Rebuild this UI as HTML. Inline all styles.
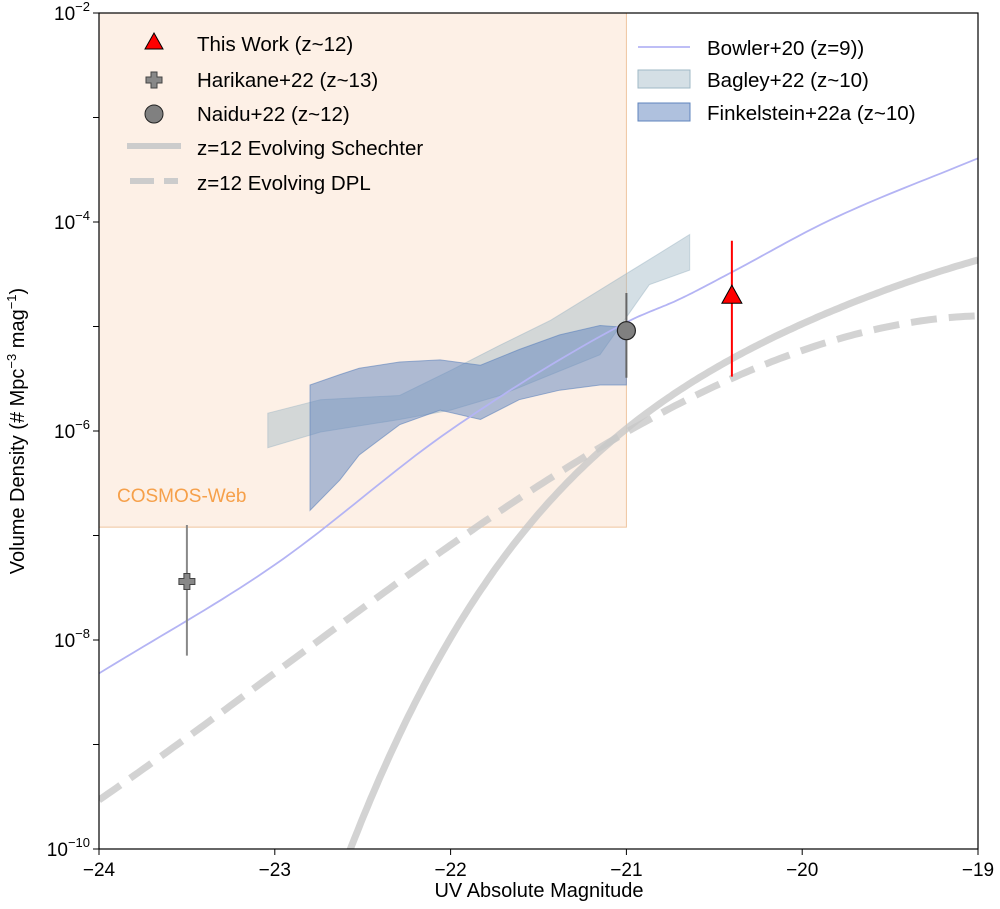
<!DOCTYPE html>
<html><head><meta charset="utf-8"><style>
body{margin:0;background:#fff;}
svg{display:block;font-family:"Liberation Sans",Arial,sans-serif;}
</style></head><body>
<svg id="chart" width="1000" height="909" viewBox="0 0 1000 909"></svg>
<script>
const bowlerX=[-24,-23,-22,-21,-20.7,-20.4,-19.84,-19];
const bowlerY=[-8.32,-7.28,-5.99,-4.96,-4.74,-4.48,-3.98,-3.39];
const schX=[-22.6,-22.563,-22.402,-22.25,-22.098,-21.928,-21.719,-21.55,-21.17,-20.98,-20.7,-20.41,-20,-19.5,-19];
const schY=[-10.13,-9.978,-9.308,-8.766,-8.255,-7.81,-7.234,-6.90,-6.21,-5.96,-5.64,-5.30,-4.96,-4.65,-4.36];
const dplX=[-24,-23.5,-23,-22.5,-22,-21.5,-21,-20.5,-20,-19.5,-19];
const dplY=[-9.48,-8.98,-8.40,-7.68,-7.0,-6.50,-6.03,-5.59,-5.25,-5.02,-4.87];
const bagX=[-23.04,-22.74,-22.29,-22.0,-21.72,-21.43,-21.15,-20.87,-20.64];
const bagHi=[-5.83,-5.70,-5.66,-5.42,-5.18,-4.94,-4.65,-4.36,-4.12];
const bagLo=[-6.16,-6.01,-5.89,-5.80,-5.66,-5.46,-5.27,-4.60,-4.46];
const finX=[-22.80,-22.63,-22.52,-22.29,-22.06,-21.83,-21.61,-21.38,-21.15,-21.0];
const finHi=[-5.56,-5.46,-5.40,-5.34,-5.32,-5.37,-5.22,-5.08,-4.99,-5.01];
const finLo=[-6.76,-6.47,-6.23,-5.94,-5.80,-5.89,-5.70,-5.61,-5.56,-5.56];
const thisWork=[-20.4,-4.71,-4.18,-5.48];
const harikane=[-23.5,-7.44,-6.9,-8.15];
const naidu=[-21,-5.04,-4.68,-5.49];
const xTicks=[-24,-23,-22,-21,-20,-19];
const yTicks=[-10,-8,-6,-4,-2];

const L=99,R=978,T=13,B=849;
const sx=v=>L+(v+24)/5*(R-L);
const sy=v=>T+(-2-v)/8*(B-T);
const NS="http://www.w3.org/2000/svg";
const svg=document.getElementById('chart');
function mk(tag,attrs,parent){const e=document.createElementNS(NS,tag);for(const k in attrs)e.setAttribute(k,attrs[k]);(parent||svg).appendChild(e);return e;}
const clip=mk('clipPath',{id:'pc'});mk('rect',{x:L,y:T,width:R-L,height:B-T},clip);
const g=mk('g',{'clip-path':'url(#pc)'});
function line(xs,ys){return xs.map((x,i)=>(i?'L':'M')+sx(x).toFixed(1)+','+sy(ys[i]).toFixed(1)).join(' ');}
function smooth(xs,ys){
 const n=xs.length,d=[],m=[];
 for(let i=0;i<n-1;i++)d.push((ys[i+1]-ys[i])/(xs[i+1]-xs[i]));
 m[0]=d[0];m[n-1]=d[n-2];
 for(let i=1;i<n-1;i++)m[i]=d[i-1]*d[i]<=0?0:(d[i-1]+d[i])/2;
 const px=[],py=[];
 for(let i=0;i<n-1;i++){const h=xs[i+1]-xs[i];for(let k=0;k<20;k++){const t=k/20,t2=t*t,t3=t2*t;
  px.push(xs[i]+t*h);py.push((2*t3-3*t2+1)*ys[i]+(t3-2*t2+t)*h*m[i]+(-2*t3+3*t2)*ys[i+1]+(t3-t2)*h*m[i+1]);}}
 px.push(xs[n-1]);py.push(ys[n-1]);
 return line(px,py);}
// least-squares polynomial through the read points (smooths reading noise)
function polyCurve(xs,ys,deg,x0,x1){
 const c=(xs[0]+xs[xs.length-1])/2,s=(xs[xs.length-1]-xs[0])/2||1;
 const N=deg+1,A=[...Array(N)].map(()=>Array(N+1).fill(0));
 xs.forEach((x,i)=>{const u=(x-c)/s,p=[];for(let k=0;k<N;k++)p.push(Math.pow(u,k));
  for(let r=0;r<N;r++){for(let q=0;q<N;q++)A[r][q]+=p[r]*p[q];A[r][N]+=p[r]*ys[i];}});
 for(let r=0;r<N;r++){let mx=r;for(let q=r+1;q<N;q++)if(Math.abs(A[q][r])>Math.abs(A[mx][r]))mx=q;[A[r],A[mx]]=[A[mx],A[r]];
  for(let q=0;q<N;q++)if(q!==r){const f=A[q][r]/A[r][r];for(let k=r;k<=N;k++)A[q][k]-=f*A[r][k];}}
 const co=A.map((row,r)=>row[N]/row[r]);
 const px=[],py=[];for(let k=0;k<=200;k++){const x=x0+(x1-x0)*k/200,u=(x-c)/s;let v=0;for(let j=N-1;j>=0;j--)v=v*u+co[j];px.push(x);py.push(v);}
 return line(px,py);}
function band(xs,hi,lo){let d=line(xs,hi);for(let i=xs.length-1;i>=0;i--)d+='L'+sx(xs[i]).toFixed(1)+','+sy(lo[i]).toFixed(1);return d+'Z';}

let e;
e=mk('rect',{x:L,y:T,width:sx(-21)-L,height:sy(-6.92)-T,fill:'#fdf0e6',stroke:'#efc59e','stroke-width':1},g);


e=mk('text',{x:117,y:502,fill:'#f6a04a','font-size':19},g);e.textContent='COSMOS-Web';


e=mk('path',{d:band(bagX,bagHi,bagLo),fill:'#9fb8c6','fill-opacity':0.45,stroke:'#9fb8c6','stroke-opacity':0.5},g);


e=mk('path',{d:band(finX,finHi,finLo),fill:'#5f84bd','fill-opacity':0.5,stroke:'#5f84bd','stroke-opacity':0.6},g);


e=mk('path',{d:smooth(bowlerX,bowlerY),fill:'none',stroke:'#b4b4f4','stroke-width':1.8},g);


e=mk('path',{d:polyCurve(schX,schY,4,schX[0],schX[schX.length-1]),fill:'none',stroke:'#c8c8c8','stroke-opacity':0.8,'stroke-width':7},g);


e=mk('path',{d:polyCurve(dplX,dplY,3,dplX[0],dplX[dplX.length-1]),fill:'none',stroke:'#c8c8c8','stroke-opacity':0.8,'stroke-width':7,'stroke-dasharray':'26,12'},g);



function err(p,col){mk('line',{x1:sx(p[0]),x2:sx(p[0]),y1:sy(p[2]),y2:sy(p[3]),stroke:col,'stroke-width':2},g);}
err(harikane,'#888');err(naidu,'#666');err(thisWork,'#f00');
let hx=sx(harikane[0]),hy=sy(harikane[1]);
e=mk('path',{d:`M${hx-3},${hy-8}h6v5h5v6h-5v5h-6v-5h-5v-6h5z`,fill:'#888',stroke:'#444','stroke-width':1},g);


e=mk('circle',{cx:sx(naidu[0]),cy:sy(naidu[1]),r:9,fill:'#808080',stroke:'#222','stroke-width':1.2},g);


let tx=sx(thisWork[0]),ty=sy(thisWork[1]);
e=mk('path',{d:`M${tx},${ty-11}L${tx+10},${ty+7}L${tx-10},${ty+7}Z`,fill:'#f00',stroke:'#000','stroke-width':1},g);



mk('rect',{x:L,y:T,width:R-L,height:B-T,fill:'none',stroke:'#000','stroke-width':1.2});
xTicks.forEach(v=>{const x=sx(v);mk('line',{x1:x,x2:x,y1:B,y2:B+6,stroke:'#000'});
 e=mk('text',{x:x,y:B+27,'text-anchor':'middle','font-size':19});e.textContent=(v<0?'\u2212':'')+Math.abs(v);
 
 });
for(let v=-10;v<=-2;v++){const y=sy(v);mk('line',{x1:L-6,x2:L,y1:y,y2:y,stroke:'#000'});}
yTicks.forEach(v=>{const y=sy(v);
 e=mk('text',{x:L-9,y:y+7,'text-anchor':'end','font-size':19});
 e.innerHTML='10<tspan dy="-9" font-size="13">\u2212'+Math.abs(v)+'</tspan>';
 
 });
e=mk('text',{x:539,y:897,'text-anchor':'middle','font-size':20});e.textContent='UV Absolute Magnitude';


e=mk('text',{x:0,y:0,'text-anchor':'middle','font-size':20,transform:'translate(24,431) rotate(-90)'});
e.innerHTML='Volume Density (# Mpc<tspan dy="-8" font-size="13">\u22123</tspan><tspan dy="8"> mag</tspan><tspan dy="-8" font-size="13">\u22121</tspan><tspan dy="8">)</tspan>';



const lg=[[43,'This Work (z~12)'],[79,'Harikane+22 (z~13)'],[113,'Naidu+22 (z~12)'],[147,'z=12 Evolving Schechter'],[182,'z=12 Evolving DPL']];
lg.forEach(([y,t])=>{e=mk('text',{x:197,y:y+8,'font-size':20.5});e.textContent=t;
 
 });
mk('path',{d:'M154,33L163,49L145,49Z',fill:'#f00',stroke:'#000'});
mk('path',{d:'M151,72h6v5h5v6h-5v5h-6v-5h-5v-6h5z',fill:'#888',stroke:'#444'});
mk('circle',{cx:154,cy:114,r:9,fill:'#808080',stroke:'#222'});
mk('line',{x1:127,x2:181,y1:146,y2:146,stroke:'#ccc',"stroke-width":6});
mk('line',{x1:130,x2:178,y1:181,y2:181,stroke:'#ccc',"stroke-width":6,'stroke-dasharray':'24,10'});
const lg2=[[47,'Bowler+20 (z=9))'],[79,'Bagley+22 (z~10)'],[112,'Finkelstein+22a (z~10)']];
lg2.forEach(([y,t])=>{e=mk('text',{x:707,y:y+8,'font-size':20.5});e.textContent=t;
 
 });
mk('line',{x1:638,x2:690,y1:47,y2:47,stroke:'#b4b4f4','stroke-width':1.8});
mk('rect',{x:638,y:70,width:52,height:18,fill:'#9fb8c6','fill-opacity':0.45,stroke:'#9fb8c6'});
mk('rect',{x:638,y:103,width:52,height:18,fill:'#5f84bd','fill-opacity':0.5,stroke:'#5f84bd'});
</script>
</body></html>
